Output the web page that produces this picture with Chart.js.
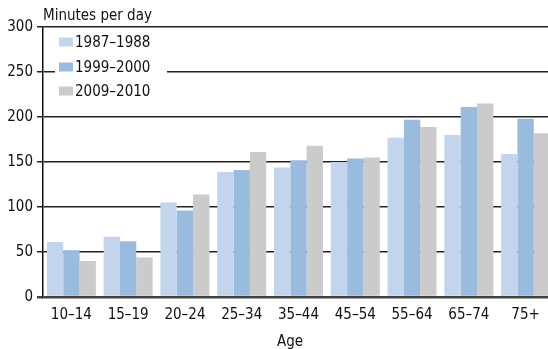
<!DOCTYPE html>
<html><head><meta charset="utf-8">
<script src="https://cdn.jsdelivr.net/npm/chart.js@4.4.1/dist/chart.umd.min.js"></script>
<style>
html,body{margin:0;padding:0;background:#fff;overflow:hidden}
#wrap{width:556px;height:349px}
</style></head><body>
<div id="wrap"><canvas id="grafico" width="556" height="349"></canvas></div>
<script>
// dados (minutos por dia)
let idades = ["10–14","15–19","20–24","25–34","35–44","45–54","55–64","65–74","75+"];
let serie1987 = [61,67,105,139,144,150,177,180,159];
let serie1999 = [52,62,96,141,152,154,197,211,198];
let serie2009 = [40,44,114,161,168,155,189,215,182];
let rotulos = ["1987–1988","1999–2000","2009–2010"];
let cores = ["#c2d5ec","#99bbdd","#cbcbcb"];
let fonte = "'Liberation Sans Narrow','DejaVu Sans Condensed',sans-serif";

let extras = {
id:"extras",
beforeDatasetsDraw(chart){
let c = chart.ctx;
c.save();
// caixa branca da legenda cobre as linhas de grade
c.fillStyle = "#fff";
c.fillRect(55,30,112,72);
let ys = [42,67,91];
c.font = "15px " + fonte;
c.textBaseline = "middle";
chart.data.datasets.forEach((ds,i)=>{
c.fillStyle = ds.backgroundColor;
c.fillRect(59, ys[i]-4.5, 14, 9);
c.fillStyle = "#111";
c.fillText(ds.label, 75, ys[i]+1);
});
c.restore();
},
afterDraw(chart){
let c = chart.ctx;
c.save();
c.fillStyle = "#111";
c.font = "15px " + fonte;
c.textBaseline = "alphabetic";
c.textAlign = "left";
c.fillText("Minutes per day", 43, 20);
c.textAlign = "center";
c.fillText("Age", 290, 346);
c.restore();
}
};

new Chart(document.getElementById("grafico"),{
type:"bar",
data:{
labels:idades,
datasets:[
{label:rotulos[0],data:serie1987,backgroundColor:cores[0]},
{label:rotulos[1],data:serie1999,backgroundColor:cores[1]},
{label:rotulos[2],data:serie2009,backgroundColor:cores[2]}
]
},
options:{
responsive:false,
animation:false,
layout:{padding:{left:0,top:27,right:2,bottom:0}},
datasets:{bar:{categoryPercentage:0.863,barPercentage:1,borderWidth:0}},
plugins:{legend:{display:false},tooltip:{enabled:false}},
scales:{
x:{
grid:{display:false,drawTicks:false},
border:{display:false},
ticks:{color:"#111",font:{family:fonte,size:15},padding:9,maxRotation:0,autoSkip:false},
afterFit(s){s.height=52;}
},
y:{
min:0,max:300,
ticks:{stepSize:50,color:"#111",font:{family:fonte,size:15},padding:4},
grid:{
color:ctx=>ctx.tick && ctx.tick.value===0 ? "#444" : "#222",
lineWidth:ctx=>ctx.tick && ctx.tick.value===0 ? 2.5 : 1.5,
tickLength:6
},
border:{color:"#111",width:1.5},
afterFit(s){s.width=43;}
}
}
},
plugins:[extras]
});
</script>
</body></html>
